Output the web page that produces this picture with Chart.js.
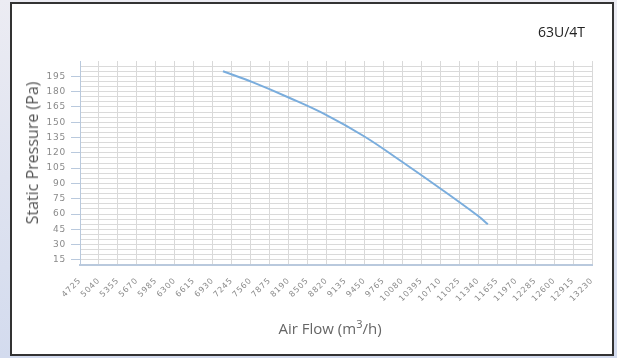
<!DOCTYPE html>
<html>
<head>
<meta charset="utf-8">
<script src="https://cdn.jsdelivr.net/npm/chart.js@4.4.1/dist/chart.umd.min.js"></script>
<style>
  html, body { margin: 0; padding: 0; }
  body { width: 617px; height: 358px; position: relative; overflow: hidden;
         background: linear-gradient(180deg, #ececf3 0%, #dfe3f0 50%, #d3dbee 100%); }
  #frame { position: absolute; left: 10px; top: 2px; width: 600px; height: 350px;
           background: #fff; border: 2px solid #333; }
  #model { position: absolute; right: 32px; top: 22px; font-family: "Open Sans", sans-serif;
           font-size: 14px; color: #222; }
  #ytitle { position: absolute; left: 32px; top: 153px; transform: translate(-50%, -50%) rotate(-90deg);
            white-space: nowrap; font-family: "Open Sans", sans-serif; font-size: 16px; font-weight: 400;
            color: #555; }
  #xtitle { position: absolute; left: 330px; top: 328px; transform: translate(-50%, -50%);
            white-space: nowrap; font-family: "Open Sans", sans-serif; font-size: 15px; color: #666; }
  #xtitle sup { font-size: 11px; line-height: 0; vertical-align: 6px; }
  canvas { position: absolute; left: 0; top: 0; }
</style>
</head>
<body>
<div id="frame"></div>
<canvas id="c" width="617" height="358"></canvas>
<div id="model">63U/4T</div>
<div id="ytitle">Static Pressure (Pa)</div>
<div id="xtitle">Air Flow (m<sup>3</sup>/h)</div>
<script>
// ---- data ----
const xTickLabels = [4725, 5040, 5355, 5670, 5985, 6300, 6615, 6930, 7245, 7560, 7875, 8190, 8505, 8820,
  9135, 9450, 9765, 10080, 10395, 10710, 11025, 11340, 11655, 11970, 12285, 12600, 12915, 13230];
const yTickLabels = [15, 30, 45, 60, 75, 90, 105, 120, 135, 150, 165, 180, 195];
const airFlow = [7100, 7600, 8200, 8820, 9450, 10080, 10710, 11340, 11500];
const staticPressure = [200, 189, 174, 157, 136, 111, 85, 58, 50];

const yMin = 10, yMax = 210, yGridTop = 205, yGridStep = 5;

const letterSpacingPlugin = {
  id: 'ls',
  beforeDraw(chart) { chart.ctx.letterSpacing = '0.8px'; },
  afterDraw(chart) { chart.ctx.letterSpacing = '0px'; }
};

new Chart(document.getElementById('c'), {
  type: 'line',
  data: {
    datasets: [{
      data: airFlow.map((x, i) => ({ x, y: staticPressure[i] })),
      borderColor: '#7aaddd',
      borderWidth: 2,
      pointRadius: 0,
      tension: 0.4,
      fill: false
    }]
  },
  options: {
    responsive: false,
    animation: false,
    events: [],
    layout: { padding: { left: 22, top: 61, right: 25, bottom: 22 } },
    plugins: { legend: { display: false }, tooltip: { enabled: false }, title: { display: false } },
    scales: {
      x: {
        type: 'linear',
        min: xTickLabels[0],
        max: xTickLabels[xTickLabels.length - 1],
        afterBuildTicks(scale) { scale.ticks = xTickLabels.map(v => ({ value: v })); },
        afterFit(scale) { scale.height = 71; scale.paddingLeft = 0; scale.paddingRight = 0; },
        border: { display: true, color: '#b9c9dd', width: 2 },
        grid: { color: '#d9d9d9', lineWidth: 1, drawTicks: false },
        ticks: {
          autoSkip: false, maxRotation: 45, minRotation: 45, padding: 11,
          color: '#8a8a8a', font: { family: 'DejaVu Sans', size: 8 },
          callback: v => String(v)
        },
        title: { display: false }
      },
      y: {
        type: 'linear',
        min: yMin, max: yMax,
        afterBuildTicks(scale) {
          const t = [];
          for (let v = yMin; v <= yGridTop; v += yGridStep) t.push({ value: v });
          scale.ticks = t;
        },
        afterFit(scale) { scale.width = 58; },
        border: { display: true, color: '#b9c9dd', width: 1 },
        grid: {
          color: '#dadada', lineWidth: 1, tickLength: 9,
          tickColor: ctx => yTickLabels.includes(ctx.tick && ctx.tick.value) ? '#b9c9dd' : 'rgba(0,0,0,0)'
        },
        ticks: {
          autoSkip: false, padding: 5, color: '#8a8a8a',
          font: { family: 'DejaVu Sans', size: 9 },
          callback: v => yTickLabels.includes(v) ? String(v) : ''
        },
        title: { display: false }
      }
    }
  },
  plugins: [letterSpacingPlugin]
});
</script>
</body>
</html>
